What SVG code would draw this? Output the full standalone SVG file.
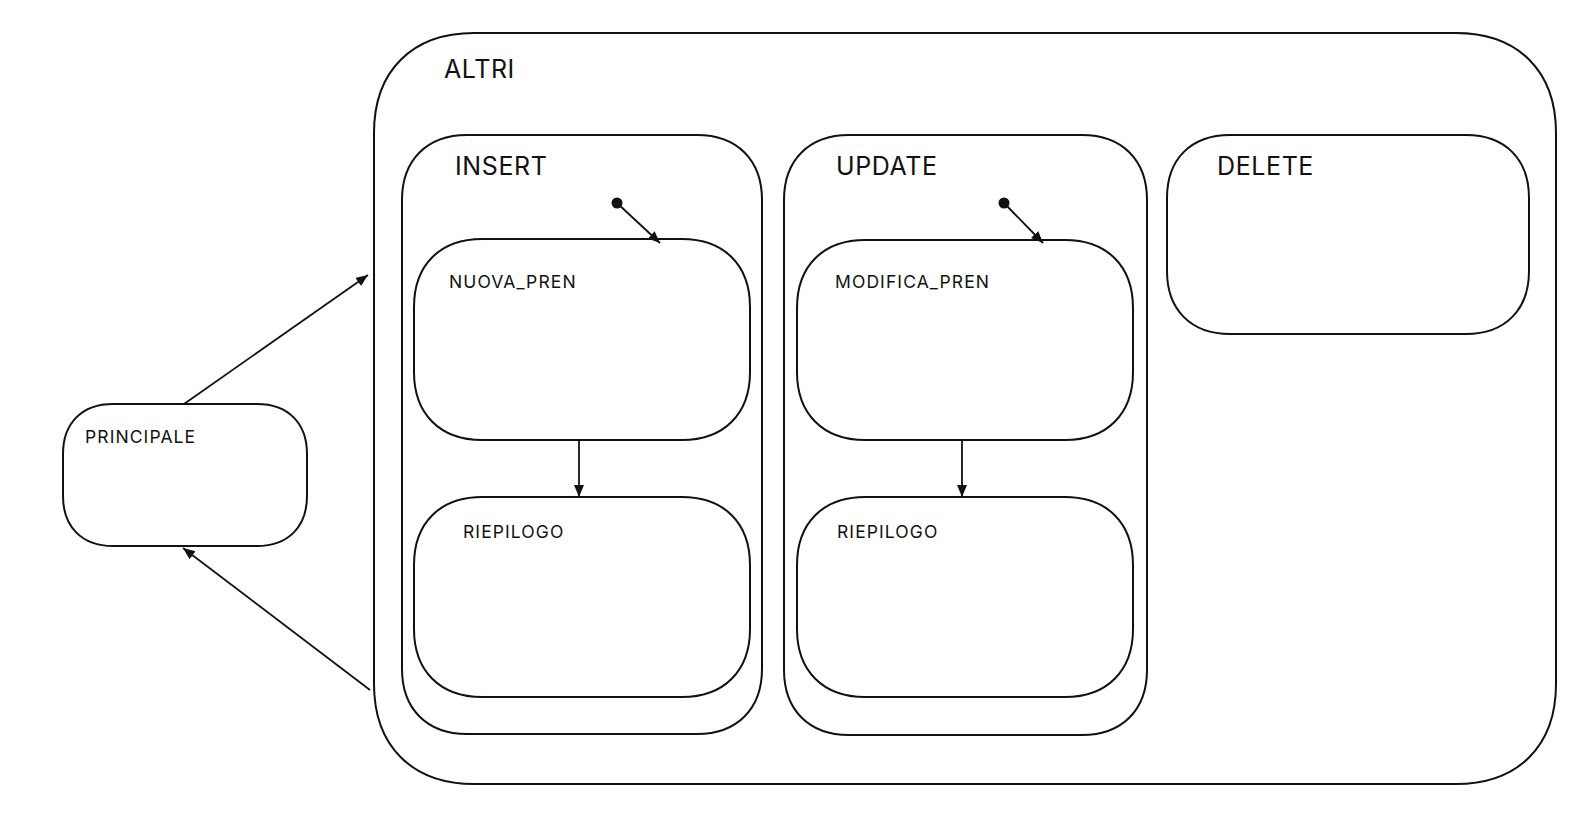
<svg xmlns="http://www.w3.org/2000/svg" width="1592" height="824" viewBox="0 0 1592 824">
<defs>
<style>
.box{fill:none;stroke:#111;stroke-width:2}
.big{font-family:Inter,"Liberation Sans",sans-serif;font-size:25px;letter-spacing:0.6px;fill:#111}
.sm{font-family:Inter,"Liberation Sans",sans-serif;font-size:17.5px;letter-spacing:1.1px;fill:#111}
.ln{fill:none;stroke:#111;stroke-width:1.8}
</style>
<marker id="arr" markerUnits="userSpaceOnUse" markerWidth="13" markerHeight="11" refX="12" refY="5" orient="auto">
<path d="M0,0 L12,5 L0,10 Z" fill="#111"/>
</marker>
</defs>
<rect width="1592" height="824" fill="#fff"/>
<g id="altri">
<path class="box" d="M474 33 H1456 C1518 33 1556 71 1556 133 V684 C1556 746 1518 784 1456 784 H474 C412 784 374 746 374 684 V133 C374 71 412 33 474 33 Z"/>
<text class="big" x="444" y="78">ALTRI</text>
</g>
<g id="insert">
<path class="box" d="M467 135 H697 C737 135 762 160 762 200 V669 C762 709 737 734 697 734 H467 C427 734 402 709 402 669 V200 C402 160 427 135 467 135 Z"/>
<text class="big" x="455" y="175">INSERT</text>
</g>
<g id="update">
<path class="box" d="M849 135 H1082 C1122 135 1147 160 1147 200 V670 C1147 710 1122 735 1082 735 H849 C809 735 784 710 784 670 V200 C784 160 809 135 849 135 Z"/>
<text class="big" x="836" y="175">UPDATE</text>
</g>
<g id="delete">
<path class="box" d="M1230 135 H1466 C1505 135 1529 159 1529 198 V271 C1529 310 1505 334 1466 334 H1230 C1191 334 1167 310 1167 271 V198 C1167 159 1191 135 1230 135 Z"/>
<text class="big" x="1217" y="175">DELETE</text>
</g>
<g id="nuova_pren">
<path class="box" d="M482 239 H682 C724 239 750 265 750 307 V372 C750 414 724 440 682 440 H482 C440 440 414 414 414 372 V307 C414 265 440 239 482 239 Z"/>
<text class="sm" x="449" y="288">NUOVA_PREN</text>
</g>
<g id="riepilogo_insert">
<path class="box" d="M482 497 H682 C724 497 750 523 750 565 V629 C750 671 724 697 682 697 H482 C440 697 414 671 414 629 V565 C414 523 440 497 482 497 Z"/>
<text class="sm" x="463" y="538">RIEPILOGO</text>
</g>
<g id="modifica_pren">
<path class="box" d="M865 240 H1065 C1107 240 1133 266 1133 308 V372 C1133 414 1107 440 1065 440 H865 C823 440 797 414 797 372 V308 C797 266 823 240 865 240 Z"/>
<text class="sm" x="835" y="288">MODIFICA_PREN</text>
</g>
<g id="riepilogo_update">
<path class="box" d="M865 497 H1065 C1107 497 1133 523 1133 565 V629 C1133 671 1107 697 1065 697 H865 C823 697 797 671 797 629 V565 C797 523 823 497 865 497 Z"/>
<text class="sm" x="837" y="538">RIEPILOGO</text>
</g>
<g id="principale">
<path class="box" d="M113 404 H257 C288 404 307 423 307 454 V496 C307 527 288 546 257 546 H113 C82 546 63 527 63 496 V454 C63 423 82 404 113 404 Z"/>
<text class="sm" x="85" y="443">PRINCIPALE</text>
</g>
<g id="connectors">
<line class="ln" x1="184" y1="404" x2="368" y2="275" marker-end="url(#arr)"/>
<line class="ln" x1="370" y1="690" x2="183" y2="548" marker-end="url(#arr)"/>
<circle cx="617" cy="203" r="5.5" fill="#111"/>
<line class="ln" x1="617" y1="203" x2="660" y2="243" marker-end="url(#arr)"/>
<circle cx="1004" cy="203" r="5.5" fill="#111"/>
<line class="ln" x1="1004" y1="203" x2="1043" y2="243" marker-end="url(#arr)"/>
<line class="ln" x1="579" y1="440" x2="579" y2="497" marker-end="url(#arr)"/>
<line class="ln" x1="962" y1="440" x2="962" y2="497" marker-end="url(#arr)"/>
</g>
</svg>
